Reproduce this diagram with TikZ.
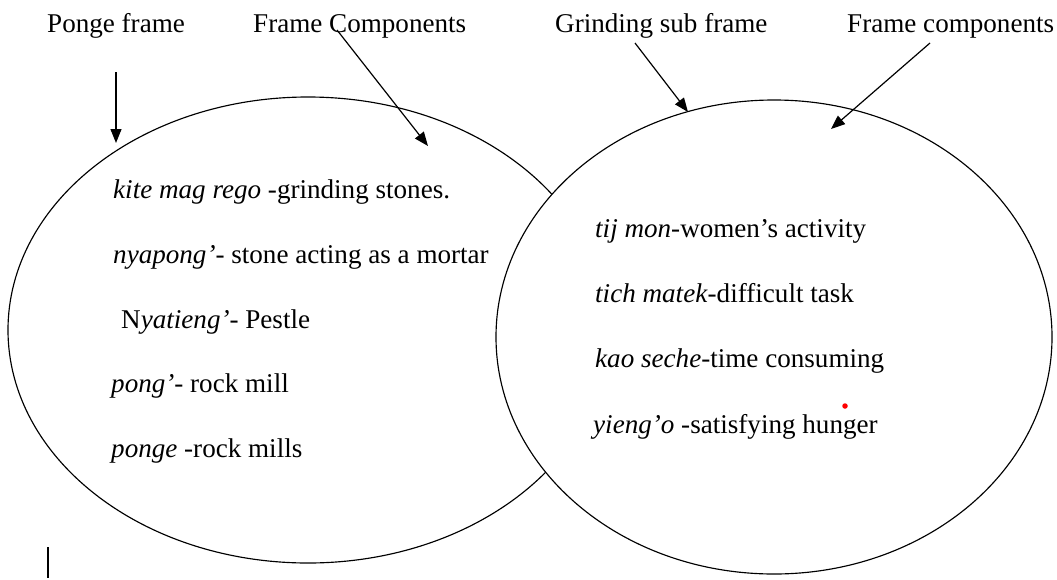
\documentclass[tikz,border=0pt]{standalone}
\usepackage{fontspec}
\setmainfont{Liberation Serif}
\usetikzlibrary{arrows.meta}
\begin{document}
\begin{tikzpicture}[x=1pt,y=-1pt,
  lbl/.style={anchor=base west, inner sep=0pt, font=\fontsize{27.1}{32}\selectfont},
  frameshape/.style={draw=black, line width=1.15pt, fill=white},
  arr/.style={draw=black, line width=1.2pt, -{Triangle[length=14pt,width=11pt]}},
  plainline/.style={draw=black, line width=1.3pt}]
\useasboundingbox (0,0) rectangle (1057,579);
% ellipses
\draw[frameshape] (308,330) ellipse [x radius=300, y radius=233];
\draw[frameshape] (774,337) ellipse [x radius=278, y radius=237];
% top labels
\node[lbl] (ponge) at (47,32) {Ponge frame};
\node[lbl] (fcA) at (253,32) {Frame Components};
\node[lbl] (gsf) at (555,32) {Grinding sub frame};
\node[lbl] (fcB) at (847,32) {Frame components};
% left items
\node[lbl] (l1) at (113,198) {\textit{kite mag rego} -grinding stones.};
\node[lbl] (l2) at (113,263) {\textit{nyapong’}- stone acting as a mortar};
\node[lbl] (l3) at (121,328) {N\textit{yatieng’}- Pestle};
\node[lbl] (l4) at (111,392) {\textit{pong’}- rock mill};
\node[lbl] (l5) at (111,457) {\textit{ponge} -rock mills};
% right items
\node[lbl] (r1) at (595,237) {\textit{tij mon}-women’s activity};
\node[lbl] (r2) at (595,302) {\textit{tich matek}-difficult task};
\node[lbl] (r3) at (595,367) {\textit{kao seche}-time consuming};
\node[lbl] (r4) at (593,433) {\textit{yieng’o} -satisfying hunger};
% red dot
\node[circle, fill=red, inner sep=0pt, minimum size=5.5pt] (dot) at (845,406) {};
% arrows
\coordinate (a1s) at (116,72);  \coordinate (a1e) at (116,143);
\coordinate (a2s) at (337,30);  \coordinate (a2e) at (428,146);
\coordinate (a3s) at (635,43);  \coordinate (a3e) at (688,112);
\coordinate (a4s) at (930,43);  \coordinate (a4e) at (831,129);
\draw[arr] (a1s) -- (a1e);
\draw[arr] (a2s) -- (a2e);
\draw[arr] (a3s) -- (a3e);
\draw[arr] (a4s) -- (a4e);
% cursor bar
\coordinate (bs) at (48,547); \coordinate (be) at (48,578);
\draw[plainline] (bs) -- (be);
\end{tikzpicture}
\end{document}
